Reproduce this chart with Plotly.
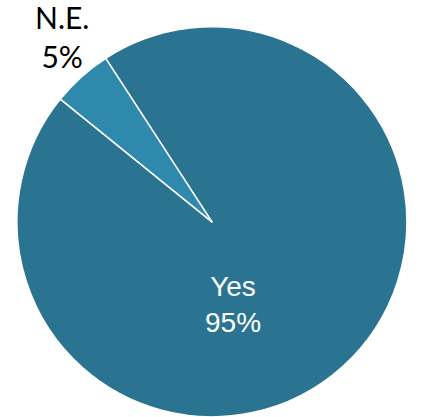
import plotly.graph_objects as go

# Answer shares
labels = ["Yes", "N.E."]
values = [95, 5]
slice_colors = ["#2A7492", "#2F89AD"]

# Label styling and placement (paper coordinates) for each slice
label_fonts = [
    dict(family="Liberation Sans, Arial, sans-serif", size=28, color="white"),
    dict(family="Lato, Open Sans, sans-serif", size=30, color="black"),
]
label_xy = [(0.552, 0.270), (0.147, 0.913)]

fig = go.Figure(
    go.Pie(
        labels=labels,
        values=values,
        sort=False,
        direction="clockwise",
        rotation=-33,
        marker=dict(colors=slice_colors, line=dict(color="white", width=1.5)),
        textinfo="none",
        showlegend=False,
        domain=dict(x=[0.040, 0.962], y=[0.0, 0.936]),
        hoverinfo="label+percent",
    )
)

total = sum(values)
for lab, val, font, (ax, ay) in zip(labels, values, label_fonts, label_xy):
    fig.add_annotation(
        x=ax,
        y=ay,
        xref="paper",
        yref="paper",
        xanchor="center",
        yanchor="middle",
        text=f"{lab}<br>{round(100 * val / total)}%",
        showarrow=False,
        font=font,
        align="center",
    )

fig.update_layout(
    width=423,
    height=417,
    margin=dict(l=0, r=0, t=0, b=0),
    paper_bgcolor="white",
    plot_bgcolor="white",
)

fig.write_html("out.html")
